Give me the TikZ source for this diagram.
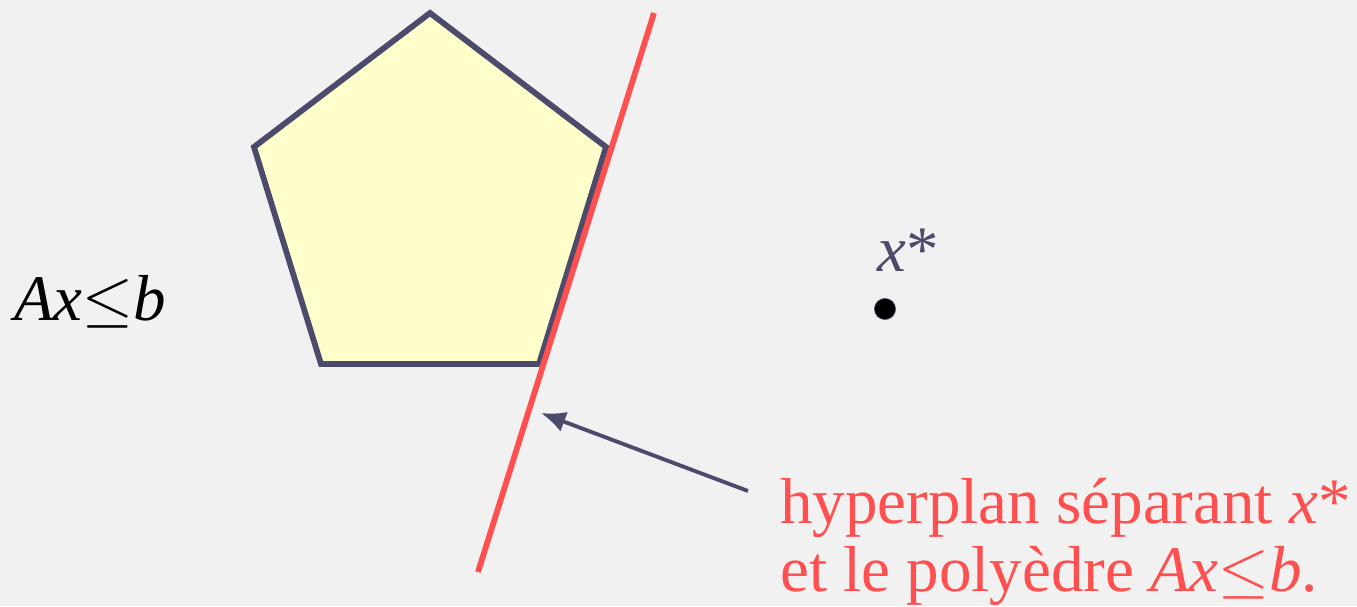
\documentclass[tikz,border=0pt]{standalone}
\usepackage{fontspec}
\setmainfont{Liberation Serif}
\usepackage{unicode-math}
\setmathfont{Latin Modern Math}
\setmathfont[range={it/{latin,Latin}}]{Liberation Serif Italic}
\usetikzlibrary{arrows.meta}
\definecolor{pozadie}{HTML}{F1F1F1}
\definecolor{obrys}{HTML}{4C4B6C}
\definecolor{vypln}{HTML}{FFFFCC}
\definecolor{cervena}{HTML}{FF4F4F}
\begin{document}
\begin{tikzpicture}[x=0.02cm, y=-0.02cm]
  % pozadie
  \fill[pozadie] (0,0) rectangle (1357,606);
  \useasboundingbox (0,0) rectangle (1357,606);

  % mnohosten
  \coordinate (v1) at (430,13);
  \coordinate (v2) at (606,147);
  \coordinate (v3) at (539,364);
  \coordinate (v4) at (321,364);
  \coordinate (v5) at (254,147);
  \draw[obrys, fill=vypln, line width=3.3pt, line join=miter]
    (v1) -- (v2) -- (v3) -- (v4) -- (v5) -- cycle;

  % deliaca nadrovina
  \coordinate (h1) at (654,13);
  \coordinate (h2) at (478,572);
  \draw[cervena, line width=3.3pt] (h1) -- (h2);

  % bod x*
  \node[circle, fill=black, draw=obrys, inner sep=0pt, minimum size=12pt] (bod) at (885,309) {};
  \node[obrys, font=\fontsize{37}{42}\selectfont] (xstar) at (908,250) {\textit{x}*};

  % nerovnica
  \node[font=\fontsize{37}{42}\selectfont] (nerovnica) at (90,302) {$Ax{\le}b$};

  % popis
  \node[cervena, anchor=west, align=left, font=\fontsize{37}{39}\selectfont] (popis) at (774,542)
    {hyperplan séparant \textit{x}*\\et le polyèdre $Ax{\le}b$.};
  \coordinate (sipka) at (748,491);
  \coordinate (ciel) at (541,413);
  \draw[obrys, line width=2.2pt, -{Latex[length=14pt,width=12pt]}] (sipka) -- (ciel);
\end{tikzpicture}
\end{document}
